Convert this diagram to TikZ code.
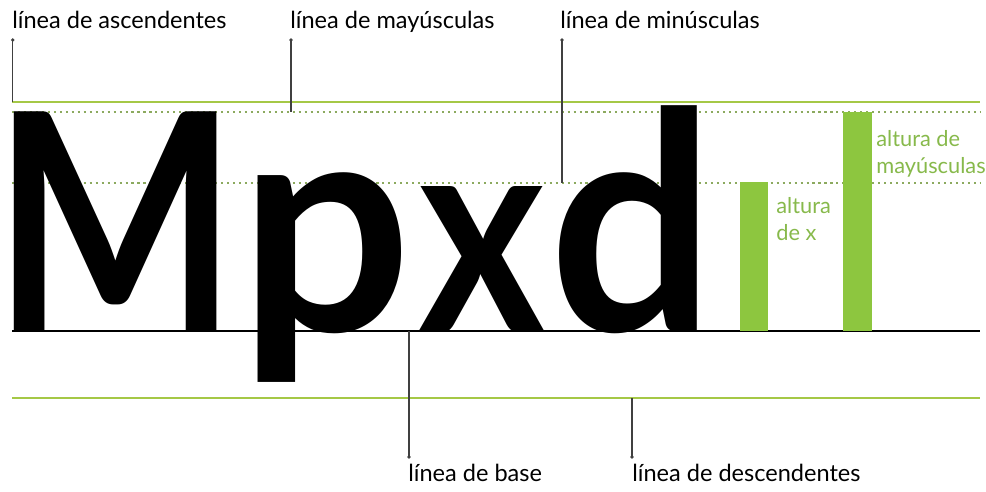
\documentclass[tikz,border=0pt]{standalone}
\usepackage{fontspec}
\setmainfont{Lato}
\usetikzlibrary{positioning}

\definecolor{guidegreen}{RGB}{165,200,70}
\definecolor{dotgreen}{RGB}{140,170,95}
\definecolor{bargreen}{RGB}{141,198,63}
\definecolor{taggreen}{RGB}{135,185,75}

\begin{document}
\begin{tikzpicture}[
    x=0.02cm, y=-0.02cm,
    guide/.style={line width=1.2pt, draw=guidegreen},
    dotguide/.style={line width=1.2pt, draw=dotgreen, dash pattern=on 1.2pt off 2.2pt},
    baseguide/.style={line width=0.9pt, draw=black},
    letter/.style={inner sep=0pt, anchor=base, font=\fontsize{173}{173}\selectfont\bfseries},
    tag/.style={inner sep=0pt, anchor=base west, font=\fontsize{13.4}{16}\selectfont},
    gtag/.style={inner sep=0pt, anchor=north west, align=left, text=taggreen, font=\fontsize{12.4}{15.3}\selectfont},
    leader/.style={line width=0.6pt, draw=black!75},
    bar/.style={fill=bargreen}
]
\useasboundingbox (0,0) rectangle (986,491);

% guide lines
\draw[guide] (12,102) -- (980,102);
\draw[dotguide] (12,112) -- (980,112);
\draw[dotguide] (12,183) -- (980,183);
\draw[baseguide] (12,331) -- (980,331);
\draw[guide] (12,398) -- (980,398);

% letters
\node[letter, xscale=0.85] (M) at (115.5,331) {\kern-0.07em M\kern-0.07em};
\node[letter] (p) at (326,331) {p};
\node[letter, xscale=0.8, yscale=0.93] (x) at (482,331) {x};
\node[letter, xscale=0.96] (d) at (632,331) {d};

% height bars
\fill[bar] (740,182) rectangle (768,331);
\fill[bar] (843,112) rectangle (872,331);
\node[gtag] (xh) at (776,197) {altura\\de x};
\node[gtag] (caph) at (876,130) {altura de\\mayúsculas};

% labels
\node[tag] (asc) at (12,28) {línea de ascendentes};
\node[tag] (cap) at (290,28) {línea de mayúsculas};
\node[tag] (low) at (560,28) {línea de minúsculas};
\node[tag] (base) at (408,481) {línea de base};
\node[tag] (desc) at (632,481) {línea de descendentes};

\coordinate (ascpt) at (12.7,102);
\coordinate (cappt) at (291,112);
\coordinate (lowpt) at (562,183);
\coordinate (basept) at (409,331);
\coordinate (descpt) at (632,398);

\draw[leader] ([shift={(0.7,12)}]asc.base west) coordinate (ascdot) -- (ascpt);
\draw[leader] ([shift={(1,12)}]cap.base west) coordinate (capdot) -- (cappt);
\draw[leader] ([shift={(2,12)}]low.base west) coordinate (lowdot) -- (lowpt);
\draw[leader] ([shift={(1,-24)}]base.base west) coordinate (basedot) -- (basept);
\draw[leader] ([shift={(0,-24)}]desc.base west) coordinate (descdot) -- (descpt);
\foreach \dot in {ascdot,capdot,lowdot,basedot,descdot}
  \fill[black!75] (\dot) circle[radius=1.1pt];
\end{tikzpicture}
\end{document}
